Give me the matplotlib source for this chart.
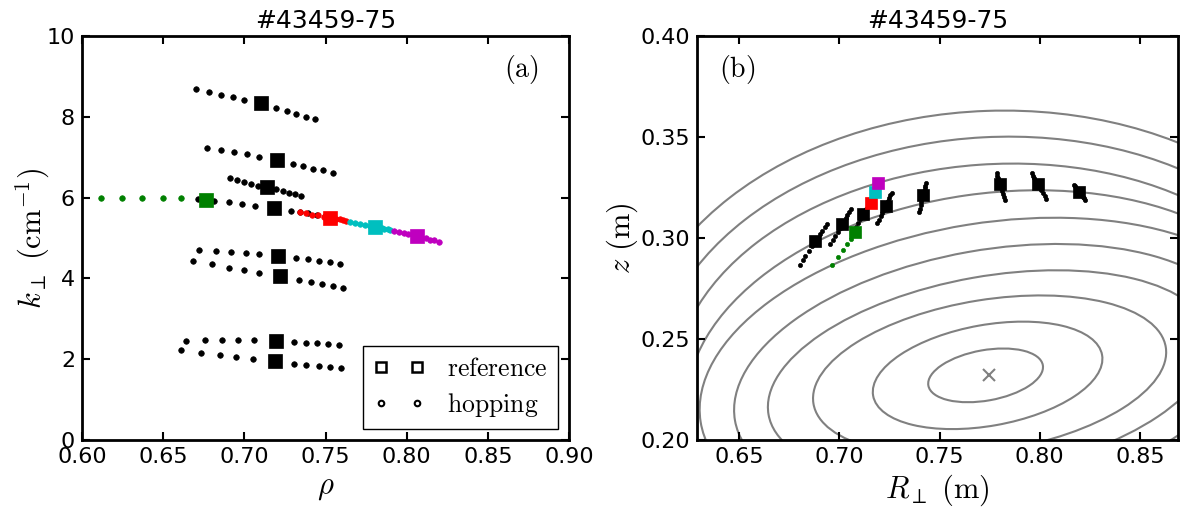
import numpy as np
import matplotlib.pyplot as plt
from matplotlib.patches import Ellipse
from matplotlib.lines import Line2D

plt.rcParams['mathtext.fontset'] = 'cm'
plt.rcParams['xtick.direction'] = 'in'
plt.rcParams['ytick.direction'] = 'in'
plt.rcParams['xtick.top'] = True
plt.rcParams['ytick.right'] = True

## Panel (a): k_perp vs rho, 8 black rows (square = middle point)
rows_rho = [
    [0.6705, 0.678, 0.6857, 0.693, 0.700, 0.710, 0.7197, 0.726, 0.732, 0.738, 0.7435],
    [0.677, 0.6857, 0.6939, 0.7017, 0.7093, 0.720, 0.7298, 0.7363, 0.7423, 0.7484, 0.7544],
    [0.691, 0.6955, 0.700, 0.7044, 0.7084, 0.7142, 0.7197, 0.7238, 0.7275, 0.7312, 0.7351],
    [0.6716, 0.6812, 0.6904, 0.6988, 0.7068, 0.7183, 0.729, 0.7345, 0.7395, 0.7445, 0.7495],
    [0.6721, 0.6824, 0.6918, 0.7009, 0.7093, 0.721, 0.732, 0.7394, 0.7462, 0.7527, 0.7588],
    [0.6685, 0.6798, 0.6904, 0.700, 0.709, 0.7218, 0.7335, 0.7408, 0.7476, 0.7544, 0.7607],
    [0.6638, 0.6756, 0.6865, 0.6964, 0.7058, 0.7193, 0.7304, 0.7378, 0.745, 0.7517, 0.7585],
    [0.6609, 0.6736, 0.6849, 0.6951, 0.7052, 0.7187, 0.7308, 0.7382, 0.7458, 0.7527, 0.7593],
]
rows_k = [
    [8.69, 8.61, 8.55, 8.48, 8.42, 8.33, 8.21, 8.14, 8.08, 8.00, 7.94],
    [7.23, 7.18, 7.13, 7.07, 7.01, 6.93, 6.84, 6.78, 6.72, 6.68, 6.62],
    [6.49, 6.44, 6.39, 6.34, 6.29, 6.26, 6.21, 6.16, 6.12, 6.08, 6.04],
    [5.96, 5.92, 5.88, 5.83, 5.80, 5.75, 5.68, 5.64, 5.61, 5.58, 5.55],
    [4.70, 4.69, 4.66, 4.64, 4.60, 4.56, 4.50, 4.47, 4.44, 4.41, 4.36],
    [4.43, 4.35, 4.26, 4.20, 4.14, 4.05, 3.96, 3.91, 3.86, 3.81, 3.76],
    [2.45, 2.47, 2.47, 2.47, 2.47, 2.45, 2.43, 2.41, 2.39, 2.38, 2.36],
    [2.23, 2.15, 2.10, 2.05, 2.00, 1.96, 1.89, 1.86, 1.83, 1.81, 1.78],
]

# coloured rows (last point of green = square, others square = middle)
green_rho = [0.6117, 0.6246, 0.637, 0.6498, 0.661, 0.6763]
green_k = [5.99, 5.99, 5.99, 5.99, 5.98, 5.94]
red_rho = [0.734, 0.7377, 0.7414, 0.7451, 0.7488, 0.7525, 0.7546, 0.7566, 0.7587, 0.7607, 0.7628]
red_k = [5.64, 5.61, 5.58, 5.56, 5.53, 5.50, 5.49, 5.47, 5.46, 5.44, 5.43]
cyan_rho = [0.7648, 0.768, 0.7712, 0.7744, 0.7776, 0.7808, 0.7826, 0.7845, 0.7863, 0.7882, 0.790]
cyan_k = [5.40, 5.38, 5.35, 5.33, 5.30, 5.28, 5.26, 5.25, 5.23, 5.22, 5.20]
mag_rho = [0.7925, 0.7953, 0.7981, 0.8008, 0.8036, 0.8064, 0.8091, 0.8118, 0.8144, 0.8171, 0.8198]
mag_k = [5.17, 5.15, 5.13, 5.10, 5.08, 5.06, 5.03, 4.99, 4.96, 4.94, 4.91]

## Panel (b): positions in the (R_perp, z) plane
segs_R = [
    [0.6805, 0.6819, 0.6830, 0.6848, 0.6864, 0.6880, 0.6892, 0.6904, 0.6916, 0.6928, 0.6939],
    [0.6956, 0.6970, 0.6981, 0.6993, 0.7004, 0.7015, 0.7023, 0.7031, 0.7040, 0.7048, 0.7056],
    [0.7065, 0.7075, 0.7085, 0.7095, 0.7105, 0.7120, 0.7127, 0.7134, 0.7141, 0.7148, 0.7155],
    [0.7190, 0.7198, 0.7207, 0.7215, 0.7224, 0.7232, 0.7238, 0.7244, 0.7249, 0.7255, 0.7261],
    [0.7400, 0.7403, 0.7407, 0.7410, 0.7414, 0.7417, 0.7420, 0.7424, 0.7427, 0.7430, 0.7433],
    [0.7827, 0.7822, 0.7817, 0.7812, 0.7807, 0.7802, 0.7799, 0.7795, 0.7792, 0.7788, 0.7785],
    [0.8033, 0.8024, 0.8015, 0.8007, 0.7998, 0.7989, 0.7983, 0.7978, 0.7972, 0.7967, 0.7961],
    [0.8226, 0.8220, 0.8215, 0.8209, 0.8204, 0.8198, 0.8193, 0.8188, 0.8183, 0.8178, 0.8173],
]
segs_z = [
    [0.2865, 0.2890, 0.2911, 0.2936, 0.2960, 0.2985, 0.3002, 0.3019, 0.3036, 0.3052, 0.3068],
    [0.2969, 0.2990, 0.3010, 0.3031, 0.3051, 0.3071, 0.3085, 0.3099, 0.3113, 0.3128, 0.3142],
    [0.3013, 0.3035, 0.3055, 0.3075, 0.3092, 0.3117, 0.3130, 0.3143, 0.3156, 0.3169, 0.3182],
    [0.3073, 0.3090, 0.3107, 0.3124, 0.3141, 0.3158, 0.3171, 0.3185, 0.3198, 0.3212, 0.3225],
    [0.3129, 0.3145, 0.3162, 0.3178, 0.3195, 0.3211, 0.3223, 0.3235, 0.3247, 0.3259, 0.3271],
    [0.3188, 0.3204, 0.3219, 0.3235, 0.3250, 0.3266, 0.3277, 0.3288, 0.3298, 0.3309, 0.3320],
    [0.3192, 0.3207, 0.3222, 0.3236, 0.3251, 0.3266, 0.3277, 0.3288, 0.3298, 0.3309, 0.3320],
    [0.3187, 0.3196, 0.3204, 0.3213, 0.3221, 0.3230, 0.3236, 0.3242, 0.3249, 0.3255, 0.3261],
]
green_R = [0.6964, 0.6994, 0.7018, 0.7040, 0.7056, 0.7076]
green_z = [0.2865, 0.2906, 0.2941, 0.2969, 0.2997, 0.3032]
col_sq_R = [0.7156, 0.7176, 0.7193]   # red, cyan, magenta
col_sq_z = [0.3175, 0.3228, 0.3274]
col_sq_c = ['r', 'c', 'm']

# flux surfaces, approximated as tilted ellipses (inner -> outer)
cont_R = [0.773, 0.774, 0.775, 0.775, 0.775, 0.776, 0.776, 0.777, 0.778, 0.778]
cont_z = [0.232, 0.232, 0.232, 0.232, 0.232, 0.232, 0.232, 0.232, 0.232, 0.232]
cont_w = [0.058, 0.116, 0.178, 0.224, 0.258, 0.294, 0.306, 0.320, 0.342, 0.366]
cont_h = [0.025, 0.050, 0.075, 0.098, 0.124, 0.151, 0.180, 0.209, 0.236, 0.262]
cont_ang = [10, 10, 9, 10, 10, 9, 8, 4, 3, 2]
axis_R, axis_z = 0.7748, 0.232

fig = plt.figure(figsize=(11.85, 5.07), dpi=100)
ax1 = fig.add_axes([82/1185, 67/507, 487/1185, 404/507])
ax2 = fig.add_axes([697/1185, 67/507, 481/1185, 404/507])

## (a)
dot_kw = dict(ls='none', marker='o', ms=4, mew=0.5)
sq_kw = dict(ls='none', marker='s', ms=10, mew=0.5)
for rr, kk in zip(rows_rho, rows_k):
    ax1.plot(rr, kk, color='k', mec='k', **dot_kw)
    ax1.plot(rr[5], kk[5], color='k', mec='k', **sq_kw)
ax1.plot(green_rho[:-1], green_k[:-1], color='g', mec='g', **dot_kw)
ax1.plot(green_rho[-1], green_k[-1], color='g', mec='g', **sq_kw)
for rr, kk, c in [(red_rho, red_k, 'r'), (cyan_rho, cyan_k, 'c'), (mag_rho, mag_k, 'm')]:
    ax1.plot(rr, kk, color=c, mec=c, **dot_kw)
    ax1.plot(rr[5], kk[5], color=c, mec=c, **sq_kw)

ax1.set_xlim(0.6, 0.9)
ax1.set_ylim(0, 10)
ax1.set_xticks(np.arange(0.6, 0.901, 0.05))
ax1.set_yticks(np.arange(0, 11, 2))
ax1.set_xlabel(r'$\rho$', fontsize=22)
ax1.set_ylabel(r'$k_\perp\ (\mathrm{cm}^{-1})$', fontsize=22, labelpad=-4)
ax1.set_title('#43459-75', fontsize=18)
ax1.text(0.903, 0.916, r'$\mathrm{(a)}$', transform=ax1.transAxes, fontsize=20,
         ha='center', va='center')
h_ref = Line2D([], [], ls='none', marker='s', ms=7, mfc='none', mec='k', mew=1.8)
h_hop = Line2D([], [], ls='none', marker='o', ms=4, mfc='none', mec='k', mew=1.5)
leg = ax1.legend([h_ref, h_hop], [r'$\mathrm{reference}$', r'$\mathrm{hopping}$'],
                 loc='lower right', numpoints=2, fontsize=18.5, fancybox=False,
                 framealpha=1, handletextpad=0.9, labelspacing=0.35,
                 borderaxespad=0.42)
leg.get_frame().set_edgecolor('k')

## (b)
for rc, zc, w, h, a in zip(cont_R, cont_z, cont_w, cont_h, cont_ang):
    ax2.add_patch(Ellipse((rc, zc), w, h, angle=a, fill=False, ec='gray', lw=1.5))
ax2.plot(axis_R, axis_z, ls='none', marker='x', ms=8, mew=1.5, color='gray')
for rr, zz in zip(segs_R, segs_z):
    ax2.plot(rr, zz, color='k', mec='k', ls='none', marker='o', ms=3, mew=0.5)
    ax2.plot(rr[5], zz[5], color='k', mec='k', ls='none', marker='s', ms=8, mew=0.5)
ax2.plot(green_R[:-1], green_z[:-1], color='g', mec='g', ls='none', marker='o', ms=3, mew=0.5)
ax2.plot(green_R[-1], green_z[-1], color='g', mec='g', ls='none', marker='s', ms=8, mew=0.5)
for r, z, c in zip(col_sq_R, col_sq_z, col_sq_c):
    ax2.plot(r, z, color=c, mec=c, ls='none', marker='s', ms=8, mew=0.5)

ax2.set_xlim(0.629, 0.869)
ax2.set_ylim(0.2, 0.4)
ax2.set_xticks(np.arange(0.65, 0.851, 0.05))
ax2.set_yticks(np.arange(0.2, 0.401, 0.05))
ax2.set_xlabel(r'$R_\perp\ (\mathrm{m})$', fontsize=22)
ax2.set_ylabel(r'$z\ (\mathrm{m})$', fontsize=22, labelpad=0)
ax2.set_title('#43459-75', fontsize=18)
ax2.text(0.083, 0.916, r'$\mathrm{(b)}$', transform=ax2.transAxes, fontsize=20,
         ha='center', va='center')

for ax in (ax1, ax2):
    for s in ax.spines.values():
        s.set_linewidth(2)
    ax.tick_params(which='major', length=6, width=1.5, labelsize=16, pad=5)
ax1.xaxis.set_major_formatter(plt.FormatStrFormatter('%.2f'))
ax2.xaxis.set_major_formatter(plt.FormatStrFormatter('%.2f'))
ax2.yaxis.set_major_formatter(plt.FormatStrFormatter('%.2f'))

fig.savefig('out.png', dpi=100)
